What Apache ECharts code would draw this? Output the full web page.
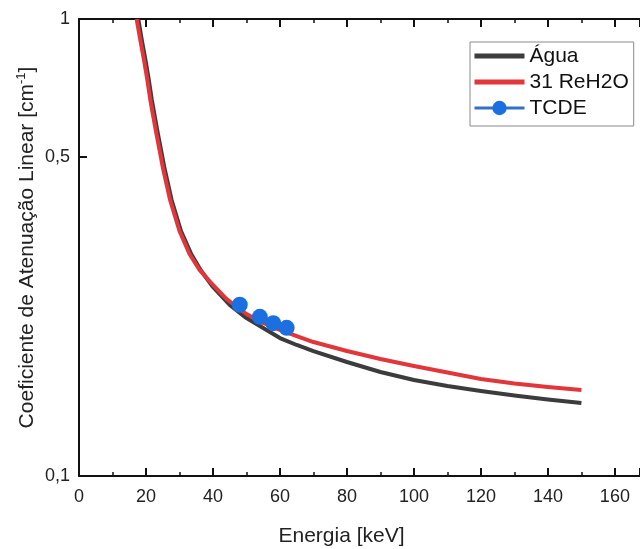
<!DOCTYPE html>
<html>
<head>
<meta charset="utf-8">
<style>
  html, body { margin: 0; padding: 0; background: #fff; }
  #chart { width: 640px; height: 549px; }
</style>
<script src="https://cdn.jsdelivr.net/npm/echarts@6/dist/echarts.min.js"></script>
</head>
<body>
<div id="chart"></div>
<script>
// Linear attenuation coefficient (cm^-1) versus photon energy (keV)
const aguaEnergy = [17.7, 18.75, 19.85, 20.85, 21.75, 23.35, 25.45, 27.65, 30.45, 33.5, 36.3, 40, 45, 50, 55, 60, 65, 70, 80, 90, 100, 110, 120, 130, 140, 150];
const aguaMu     = [1.000, 0.8996, 0.8134, 0.7355, 0.6648, 0.5716, 0.4745, 0.4018, 0.3436, 0.3060, 0.2824, 0.2592, 0.2367, 0.2216, 0.2108, 0.2004, 0.1935, 0.1877, 0.1776, 0.1689, 0.1622, 0.1574, 0.1535, 0.1500, 0.1470, 0.1444];

const rehEnergy = [17.2, 18.3, 19.4, 20.4, 21.3, 22.9, 25.0, 27.2, 30, 33, 36, 40, 44, 50, 55, 60, 65, 70, 80, 90, 100, 110, 120, 130, 140, 150];
const rehMu     = [1.000, 0.8996, 0.8134, 0.7355, 0.6648, 0.5716, 0.4745, 0.4018, 0.3436, 0.3060, 0.2824, 0.2618, 0.2440, 0.2262, 0.2162, 0.2087, 0.2024, 0.1964, 0.1877, 0.1803, 0.1740, 0.1684, 0.1630, 0.1594, 0.1566, 0.1542];

const tcdeEnergy = [48, 54, 58, 62];
const tcdeMu     = [0.237, 0.223, 0.216, 0.211];

const yTickValues = [0.1, 0.5, 1];
const xMin = 0, xMax = 167.5, xStep = 20;

const zip = (xs, ys) => xs.map((x, i) => [x, ys[i]]);
const FONT = '"Liberation Sans", Arial, sans-serif';
const decimalComma = v => String(v).replace('.', ',');

const chart = echarts.init(document.getElementById('chart'), null, { renderer: 'canvas' });

const axisLine = { show: true, onZero: false, lineStyle: { color: '#111', width: 2 } };
const majorTick = { show: true, inside: true, length: 8, lineStyle: { color: '#111', width: 2 } };
const minorTick = { show: true, splitNumber: 2, length: 4, lineStyle: { color: '#111', width: 1.5 } };

chart.setOption({
  animation: false,
  backgroundColor: '#fff',
  textStyle: { fontFamily: FONT },
  grid: { left: 79, top: 19, right: 0, height: 457, containLabel: false, outerBoundsMode: 'none' },
  legend: {
    orient: 'vertical',
    left: 470,
    top: 42,
    padding: [3, 5, 7, 2],
    itemGap: 4,
    itemWidth: 50,
    itemHeight: 18,
    borderColor: '#8a8a8a',
    borderWidth: 1,
    textStyle: { fontFamily: FONT, fontSize: 21, color: '#111', lineHeight: 22 },
    data: [
      { name: 'Água', itemStyle: { opacity: 0 }, lineStyle: { color: '#3c3c3e', width: 5 } },
      { name: '31 ReH2O', itemStyle: { opacity: 0 }, lineStyle: { color: '#e2363b', width: 5 } },
      { name: 'TCDE', lineStyle: { color: '#3570c8', width: 3, opacity: 1 } }
    ]
  },
  xAxis: [
    {
      type: 'value', min: xMin, max: xMax, interval: xStep,
      position: 'bottom',
      name: 'Energia [keV]',
      nameLocation: 'middle',
      nameGap: 50,
      nameMoveOverlap: false,
      nameTextStyle: { fontFamily: FONT, fontSize: 21, color: '#222', padding: [0, 36, 0, 0] },
      axisLine: axisLine,
      axisTick: majorTick,
      minorTick: minorTick,
      axisLabel: { show: true, margin: 12, fontSize: 18, color: '#222', fontFamily: FONT, showMaxLabel: false },
      splitLine: { show: false }
    },
    {
      type: 'value', min: xMin, max: xMax, interval: xStep,
      position: 'top',
      axisLine: axisLine,
      axisTick: majorTick,
      minorTick: minorTick,
      axisLabel: { show: false },
      splitLine: { show: false }
    }
  ],
  yAxis: [
    {
      type: 'log', logBase: 10, min: 0.1, max: 1,
      position: 'left',
      name: '{t|Coeficiente de Atenuação Linear [cm}{s|-1}{t|]}',
      nameLocation: 'middle',
      nameGap: 40,
      nameMoveOverlap: false,
      nameRotate: 90,
      nameTextStyle: {
        fontFamily: FONT, fontSize: 21, color: '#222',
        rich: {
          t: { fontFamily: FONT, fontSize: 21, color: '#222', lineHeight: 24 },
          s: { fontFamily: FONT, fontSize: 13, color: '#222', lineHeight: 24, verticalAlign: 'top', padding: [0, 0, 9, 0] }
        }
      },
      axisLine: axisLine,
      axisTick: Object.assign({}, majorTick, { customValues: [0.5] }),
      minorTick: { show: false },
      axisLabel: {
        show: true, margin: 9, fontSize: 18, color: '#222', fontFamily: FONT,
        customValues: yTickValues,
        formatter: v => decimalComma(v)
      },
      splitLine: { show: false }
    }
  ],
  series: [
    {
      name: 'Água',
      type: 'line',
      data: zip(aguaEnergy, aguaMu),
      symbol: 'none',
      smooth: false,
      lineStyle: { color: '#3c3c3e', width: 4, join: 'round' },
      itemStyle: { color: '#3c3c3e' },
      z: 2
    },
    {
      name: '31 ReH2O',
      type: 'line',
      data: zip(rehEnergy, rehMu),
      symbol: 'none',
      smooth: false,
      lineStyle: { color: '#e2363b', width: 4, join: 'round' },
      itemStyle: { color: '#e2363b' },
      z: 3
    },
    {
      name: 'TCDE',
      type: 'line',
      data: zip(tcdeEnergy, tcdeMu),
      symbol: 'circle',
      symbolSize: 16,
      showSymbol: true,
      lineStyle: { width: 0, opacity: 0, color: '#3570c8' },
      itemStyle: { color: '#1b6fe0' },
      z: 4
    }
  ]
});
</script>
</body>
</html>
